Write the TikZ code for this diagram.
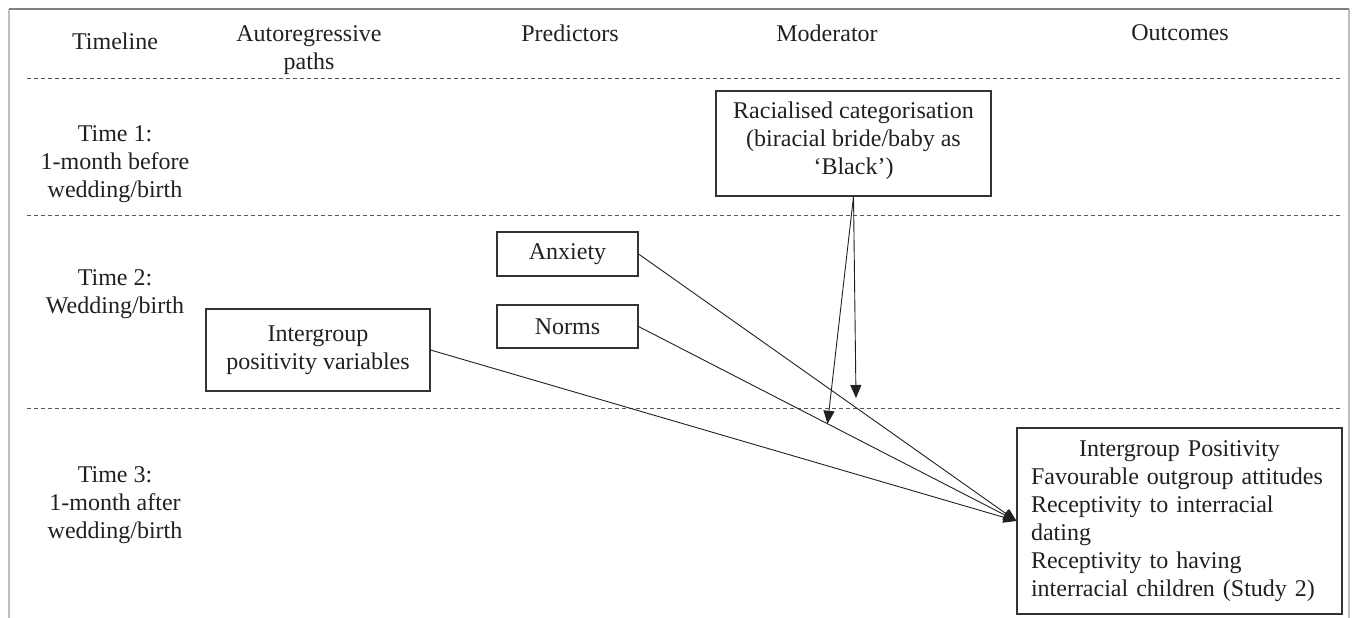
\documentclass[tikz,border=0pt]{standalone}
\usepackage{fontspec}
\setmainfont{Liberation Serif}
\usetikzlibrary{arrows.meta}
\definecolor{txt}{HTML}{231F20}
\definecolor{boxc}{HTML}{333333}
\definecolor{sepc}{HTML}{555555}
\begin{document}
\begin{tikzpicture}[x=1pt,y=-1pt,
  every node/.style={font=\fontsize{24}{28}\selectfont, text=txt, align=center, inner sep=0pt},
  box/.style={draw=boxc, line width=1.1pt, inner sep=0pt},
  sepline/.style={draw=sepc, line width=1pt, dash pattern=on 4pt off 3pt},
  arr/.style={draw=txt, line width=0.9pt, -{Triangle[length=13pt,width=11pt]}},
  frameline/.style={line width=1.4pt}]
\useasboundingbox (0,0) rectangle (1354,618);
% frame
\draw[frameline, draw=black!25] (9,618) -- (9,9);
\draw[frameline, draw=black!25] (1349,9) -- (1349,618);
\draw[frameline, draw=black!50] (9,9) -- (1349,9);
% separators
\draw[sepline] (27,78) -- (1343,78);
\draw[sepline] (27,215) -- (1343,215);
\draw[sepline] (27,408) -- (1343,408);
% headers
\node (hTime) at (115,41) {Timeline};
\node (hAuto) at (309,50) {Autoregressive\\paths};
\node (hPred) at (570,33) {Predictors};
\node (hMod) at (827,33) {Moderator};
\node (hOut) at (1180,33) {Outcomes};
% time labels
\node (t1) at (115,164) {Time 1:\\1-month before\\wedding/birth};
\node (t2) at (115,294) {Time 2:\\Wedding/birth};
\node (t3) at (115,505) {Time 3:\\1-month after\\wedding/birth};
% boxes
\node[box, minimum width=275, minimum height=105, text depth=10pt] (mod) at (853.5,143.5) {Racialised categorisation\\(biracial bride/baby as\\‘Black’)};
\node[box, minimum width=141, minimum height=44] (anx) at (567.5,254) {Anxiety};
\node[box, minimum width=141, minimum height=43] (norms) at (567.5,326.5) {Norms};
\node[box, minimum width=224, minimum height=82] (ipv) at (318,350) {Intergroup\\positivity variables};
\node[box, minimum width=325, minimum height=186, text width=297pt, align=left] (out) at (1179.5,521)
  {\makebox[297pt]{Intergroup Positivity}\\Favourable outgroup attitudes\\Receptivity to interracial\\dating\\Receptivity to having\\interracial children (Study 2)};
% arrows
\draw[arr] (anx.east) -- (out.west);
\draw[arr] (norms.east) -- (out.west);
\draw[arr] (ipv.east) -- (out.west);
\path (norms.east) -- (out.west) coordinate[pos=0.5] (mhit);
\coordinate (mvert) at (856,398);
\draw[arr] (mod.south) -- (mvert);
\draw[arr] (mod.south) -- (mhit);
\end{tikzpicture}
\end{document}
